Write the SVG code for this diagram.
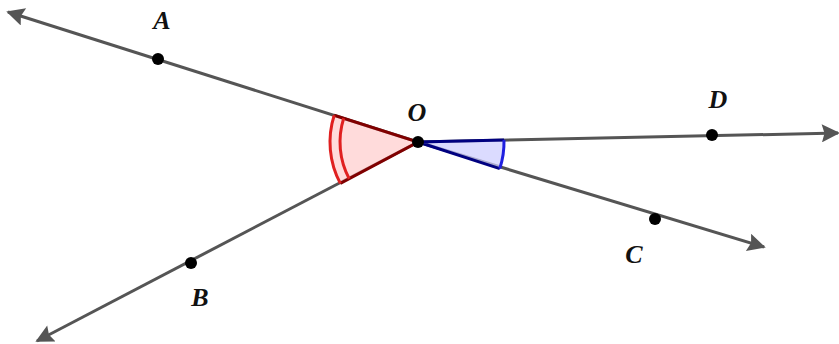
<svg xmlns="http://www.w3.org/2000/svg" width="839" height="344" viewBox="0 0 839 344">
<defs>
<style>
.ray{stroke:#555;stroke-width:3;fill:none;marker-end:url(#ah)}
.dot{fill:#000}
.lbl{font-family:"Liberation Serif","DejaVu Serif",serif;font-style:italic;font-weight:bold;font-size:26px;fill:#111;text-anchor:middle}
</style>
<marker id="ah" viewBox="0 0 10 10" refX="9" refY="5" markerWidth="7.5" markerHeight="6" markerUnits="strokeWidth" orient="auto">
<path d="M0,0 L10,5 L0,10 L1.5,5 Z" fill="#555"/>
</marker>
</defs>
<g id="connectors">
<line class="ray" x1="418" y1="142" x2="8" y2="12"/>
<line class="ray" x1="418" y1="142" x2="37" y2="341"/>
<line class="ray" x1="418" y1="142" x2="838" y2="133"/>
<line class="ray" x1="418" y1="142" x2="764" y2="247"/>
</g>
<g id="angle-AOB">
<path d="M418,142 L334.2,115.2 A88,88 0 0 0 340.3,183.4 Z" fill="#ffcccc" fill-opacity="0.7" stroke="none"/>
<path d="M334.2,115.2 L418,142 L340.3,183.4" fill="none" stroke="#800000" stroke-width="3"/>
<path d="M334.2,115.2 A88,88 0 0 0 340.3,183.4" fill="none" stroke="#e02020" stroke-width="3"/>
<path d="M343.7,118.3 A78,78 0 0 0 349.2,178.7" fill="none" stroke="#e02020" stroke-width="3"/>
</g>
<g id="angle-DOC">
<path d="M418,142 L504,139.9 A86,86 0 0 1 499.8,168.6 Z" fill="#ccccff" fill-opacity="0.7" stroke="none"/>
<path d="M504,139.9 L418,142 L499.8,168.6" fill="none" stroke="#000080" stroke-width="3"/>
<path d="M504,139.9 A86,86 0 0 1 499.8,168.6" fill="none" stroke="#1f1fe0" stroke-width="3"/>
</g>
<g id="node-A"><circle class="dot" cx="158" cy="59" r="6"/><text class="lbl" x="162" y="29">A</text></g>
<g id="node-B"><circle class="dot" cx="191" cy="263" r="6"/><text class="lbl" x="200" y="306">B</text></g>
<g id="node-C"><circle class="dot" cx="655" cy="219" r="6"/><text class="lbl" x="634" y="263">C</text></g>
<g id="node-D"><circle class="dot" cx="712" cy="135" r="6"/><text class="lbl" x="718" y="108">D</text></g>
<g id="node-O"><circle class="dot" cx="418" cy="142" r="6"/><text class="lbl" x="417" y="121">O</text></g>
</svg>
